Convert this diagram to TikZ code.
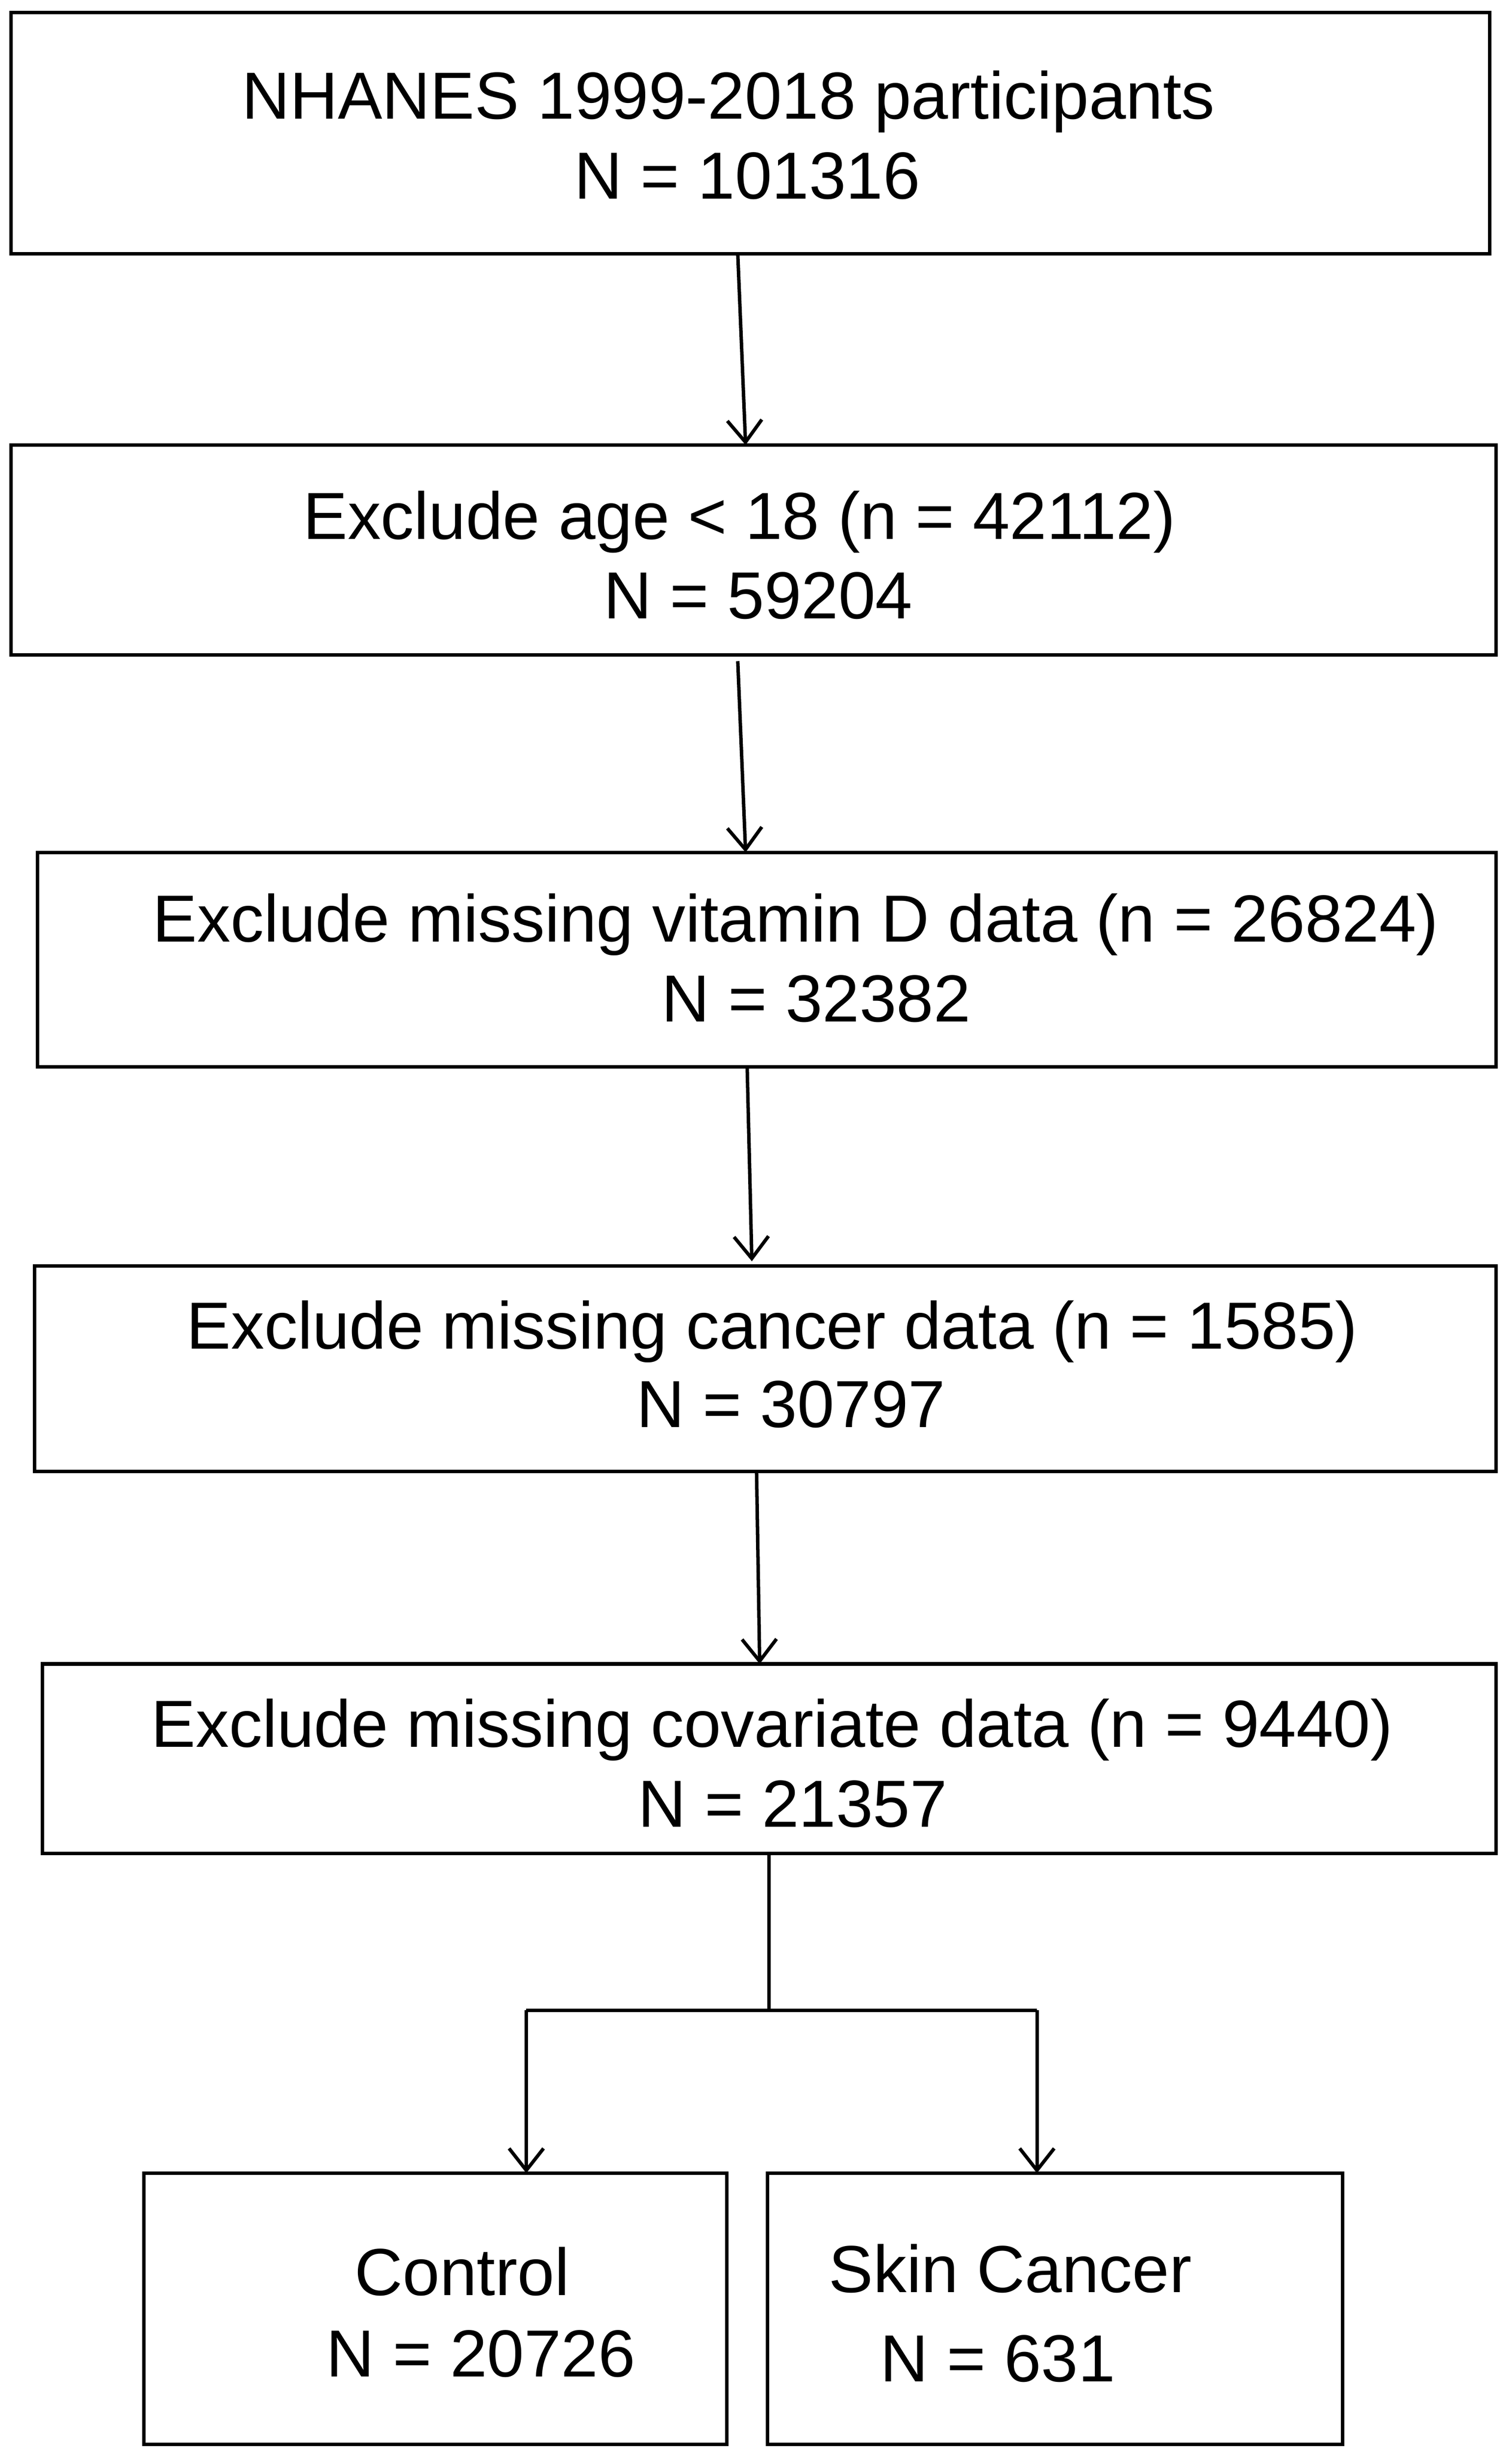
\documentclass[tikz,border=0pt]{standalone}
\usepackage{fontspec}
\setmainfont{Liberation Sans}
\usetikzlibrary{arrows.meta}
\begin{document}
\begin{tikzpicture}[x=1pt,y=-1pt,
  box/.style={draw,line width=2.2pt,inner sep=0pt},
  txt/.style={font=\fontsize{42.5}{48}\selectfont,inner sep=0pt,anchor=base},
  arr/.style={line width=2.2pt,-{Straight Barb[length=14pt,width=22pt,line width=2.2pt]}},
  ln/.style={line width=2.2pt}]
\useasboundingbox (0,0) rectangle (965,1565);
\newcommand\bx[5]{\node[box,minimum width={#3-#1},minimum height={#4-#2}] (#5) at ({(#1+#3)/2},{(#2+#4)/2}) {};}
\bx{7}{8}{951}{162}{b1}
\bx{7}{284}{955}{418}{b2}
\bx{24}{544}{955}{681}{b3}
\bx{22}{808}{955}{939}{b4}
\bx{27}{1062}{955}{1183}{b5}
\bx{92}{1387}{464}{1560}{b6}
\bx{490}{1387}{857}{1560}{b7}
\node[txt] (t1a) at (465,76) {NHANES 1999-2018 participants};
\node[txt] (t1b) at (477,127) {N = 101316};
\node[txt] (t2a) at (472,344) {Exclude age < 18 (n = 42112)};
\node[txt] (t2b) at (484,395) {N = 59204};
\node[txt] (t3a) at (508,601) {Exclude missing vitamin D data (n = 26824)};
\node[txt] (t3b) at (521,652) {N = 32382};
\node[txt] (t4a) at (493,861) {Exclude missing cancer data (n = 1585)};
\node[txt] (t4b) at (505,911) {N = 30797};
\node[txt] (t5a) at (493,1115) {Exclude missing covariate data (n = 9440)};
\node[txt] (t5b) at (506,1166) {N = 21357};
\node[txt] (t6a) at (295,1465) {Control};
\node[txt] (t6b) at (307,1517) {N = 20726};
\node[txt] (t7a) at (645,1463) {Skin Cancer};
\node[txt] (t7b) at (637,1520) {N = 631};
\coordinate (a1) at (471,162); \coordinate (a2) at (476,284);
\coordinate (c1) at (471,422); \coordinate (c2) at (476,544);
\coordinate (d1) at (477,681); \coordinate (d2) at (480,805);
\coordinate (e1) at (483,939); \coordinate (e2) at (485,1062);
\draw[arr] (a1) -- (a2);
\draw[arr] (c1) -- (c2);
\draw[arr] (d1) -- (d2);
\draw[arr] (e1) -- (e2);
\coordinate (s0) at (491,1183); \coordinate (s1) at (491,1283);
\coordinate (l) at (336,1283); \coordinate (r) at (662,1283);
\coordinate (l2) at (336,1387); \coordinate (r2) at (662,1387);
\draw[ln] (s0) -- (s1);
\draw[ln] (l) -- (r);
\draw[arr] (l) -- (l2);
\draw[arr] (r) -- (r2);
\end{tikzpicture}
\end{document}
